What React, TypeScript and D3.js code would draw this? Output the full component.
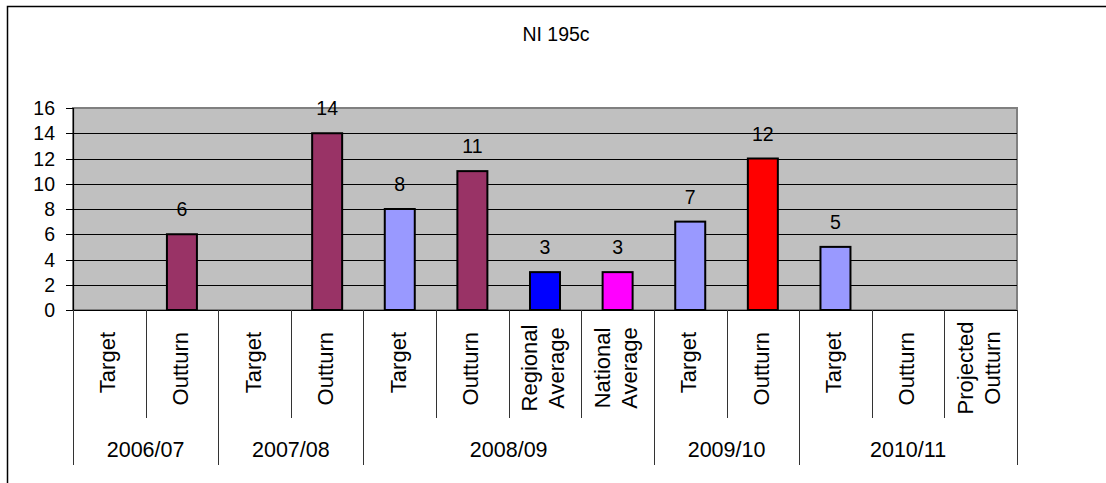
import React from "react";
import * as d3 from "d3";

const title = "NI 195c";
const groups = ["2006/07", "2007/08", "2008/09", "2009/10", "2010/11"];
const categoryLabels: string[][] = [
  ["Target"], ["Outturn"],
  ["Target"], ["Outturn"],
  ["Target"], ["Outturn"], ["Regional", "Average"], ["National", "Average"],
  ["Target"], ["Outturn"],
  ["Target"], ["Outturn"], ["Projected", "Outturn"],
];
const categoryGroup = [0, 0, 1, 1, 2, 2, 2, 2, 3, 3, 4, 4, 4];
const values: (number | null)[] = [null, 6, null, 14, 8, 11, 3, 3, 7, 12, 5, null, null];
const barColors = [
  "#9999FF", "#993366", "#9999FF", "#993366", "#9999FF", "#993366", "#0000FF", "#FF00FF",
  "#9999FF", "#FF0000", "#9999FF", "#993366", "#9999FF",
];
const yTicks = [0, 2, 4, 6, 8, 10, 12, 14, 16];

const W = 1106, H = 483;
const plot = { left: 73, right: 1017, top: 108, bottom: 310 };
const FONT = "'Liberation Sans', Arial, sans-serif";

export default function App() {
  const idx = categoryLabels.map((_, i) => i);
  const x = d3.scaleBand<number>().domain(idx).range([plot.left, plot.right]).padding(0);
  const y = d3.scaleLinear().domain([0, 16]).range([plot.bottom, plot.top]);
  const bw = x.bandwidth();
  const barW = 30;

  const groupStarts: number[] = [];
  const groupEnds: number[] = [];
  groups.forEach((_, g) => {
    const members = idx.filter((i) => categoryGroup[i] === g);
    groupStarts.push(x(members[0])!);
    groupEnds.push(x(members[members.length - 1])! + bw);
  });
  const boundaryX = new Set<number>();
  groupStarts.forEach((s) => boundaryX.add(Math.round(s * 10) / 10));
  groupEnds.forEach((s) => boundaryX.add(Math.round(s * 10) / 10));

  const tickXs = idx.map((i) => x(i)!).concat([plot.right]);

  return (
    <svg width={W} height={H} style={{ position: "absolute", left: 0, top: 0 }} fontFamily={FONT}>
      <rect x={0} y={0} width={W} height={H} fill="#fff" />
      <rect x={7.5} y={6.5} width={W + 20} height={H + 20} fill="none" stroke="#000" strokeWidth={1.5} />
      <text x={556} y={40.5} fontSize={19.5} textAnchor="middle" fill="#000">{title}</text>

      <rect x={plot.left} y={plot.top} width={plot.right - plot.left} height={plot.bottom - plot.top} fill="#C0C0C0" stroke="#808080" strokeWidth={2} />
      {yTicks.filter((t) => t > 0 && t < 16).map((t) => (
        <line key={"g" + t} x1={plot.left} x2={plot.right} y1={Math.round(y(t)) + 0.5} y2={Math.round(y(t)) + 0.5} stroke="#000" strokeWidth={1} />
      ))}
      <line x1={plot.left + 0.5} x2={plot.left + 0.5} y1={plot.top} y2={plot.bottom} stroke="#000" strokeWidth={1.2} />
      {yTicks.map((t) => (
        <g key={"yt" + t}>
          <line x1={66} x2={plot.left} y1={Math.round(y(t)) + 0.5} y2={Math.round(y(t)) + 0.5} stroke="#000" strokeWidth={1} />
          <text x={55} y={y(t) + 7} fontSize={19.5} textAnchor="end" fill="#000">{t}</text>
        </g>
      ))}

      {values.map((v, i) =>
        v == null ? null : (
          <g key={"b" + i}>
            <rect x={x(i)! + bw / 2 - barW / 2} y={y(v)} width={barW} height={y(0) - y(v)} fill={barColors[i]} stroke="#000" strokeWidth={2} />
            <text x={x(i)! + bw / 2} y={y(v) - 18} fontSize={19.5} textAnchor="middle" fill="#000">{v}</text>
          </g>
        )
      )}

      <line x1={66} x2={plot.right} y1={plot.bottom + 0.5} y2={plot.bottom + 0.5} stroke="#000" strokeWidth={1.2} />

      {tickXs.map((tx, k) => {
        const isBoundary = boundaryX.has(Math.round(tx * 10) / 10);
        return (
          <line key={"ct" + k} x1={Math.round(tx) + 0.5} x2={Math.round(tx) + 0.5} y1={plot.bottom} y2={isBoundary ? 465 : 418} stroke="#333" strokeWidth={1} />
        );
      })}

      {categoryLabels.map((lines, i) => {
        const cx = x(i)! + bw / 2;
        if (lines.length === 1) {
          return (
            <text key={"cl" + i} transform={`translate(${cx + 6},332) rotate(-90)`} fontSize={22} textAnchor="end" fill="#000">{lines[0]}</text>
          );
        }
        return (
          <g key={"cl" + i}>
            {lines.map((ln, j) => (
              <text key={j} transform={`translate(${cx - 8 + j * 27},368) rotate(-90)`} fontSize={22} textAnchor="middle" fill="#000">{ln}</text>
            ))}
          </g>
        );
      })}

      {groups.map((g, k) => (
        <text key={"gl" + k} x={(groupStarts[k] + groupEnds[k]) / 2} y={456.5} fontSize={21.5} textAnchor="middle" fill="#000">{g}</text>
      ))}
    </svg>
  );
}
